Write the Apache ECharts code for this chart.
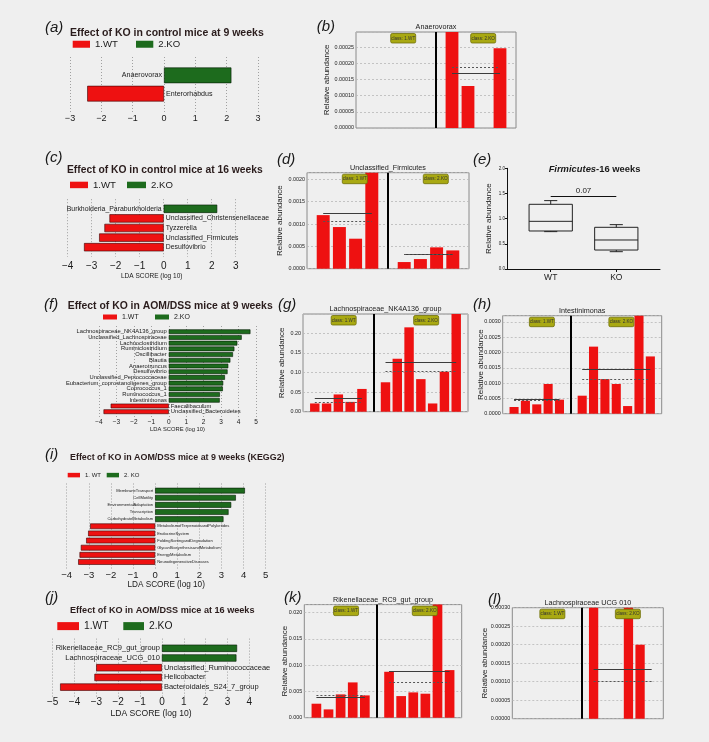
<!DOCTYPE html>
<html><head><meta charset="utf-8">
<script src="https://cdn.jsdelivr.net/npm/echarts@6/dist/echarts.min.js"></script>
<style>html,body{margin:0;padding:0;background:#efefef}#c{width:709px;height:742px}</style>
</head><body><div id="c"></div>
<script>
// ---------------- DATA ----------------
// (a) LDA, control 9 weeks (negative = 1.WT, positive = 2.KO)
const aNames = ['Anaerovorax', 'Enterorhabdus'];
const aLDA = [2.15, -2.45];
const aRange = [-3, 3];
// (c) LDA, control 16 weeks
const cNames = ['Burkholderia_Paraburkholderia', 'Unclassified_Christensenellaceae', 'Tyzzerella', 'Unclassified_Firmicutes', 'Desulfovibrio'];
const cLDA = [2.23, -2.26, -2.47, -2.69, -3.32];
const cRange = [-4, 3];
// (f) LDA, AOM/DSS 9 weeks
const fNames = ['Lachnospiraceae_NK4A136_group', 'Unclassified_Lachnospiraceae', 'Lachnoclostridium', 'Ruminiclostridium', 'Oscillibacter', 'Blautia', 'Anaerotruncus', 'Desulfovibrio', 'Unclassified_Peptococcaceae', 'Eubacterium_coprostanoligenes_group', 'Coprococcus_1', 'Ruminococcus_1', 'Intestinimonas', 'Faecalibaculum', 'Unclassified_Bacteroidetes'];
const fLDA = [4.68, 4.18, 3.93, 3.76, 3.68, 3.53, 3.41, 3.37, 3.22, 3.12, 3.10, 2.93, 2.92, -3.33, -3.74];
const fRange = [-4, 5];
// (i) LDA, AOM/DSS 9 weeks KEGG2
const iNames = ['MembraneTransport', 'CellMotility', 'EnvironmentalAdaptation', 'Transcription', 'CarbohydrateMetabolism', 'MetabolismofTerpenoidsandPolyketides', 'EndocrineSystem', 'FoldingSortingandDegradation', 'GlycanBiosynthesisandMetabolism', 'EnergyMetabolism', 'NeurodegenerativeDiseases'];
const iLDA = [4.06, 3.65, 3.44, 3.32, 3.09, -2.94, -3.03, -3.12, -3.36, -3.42, -3.48];
const iRange = [-4, 5];
// (j) LDA, AOM/DSS 16 weeks
const jNames = ['Rikenellaceae_RC9_gut_group', 'Lachnospiraceae_UCG_010', 'Unclassified_Ruminococcaceae', 'Helicobacter', 'Bacteroidales_S24_7_group'];
const jLDA = [3.44, 3.41, -3.01, -3.09, -4.66];
const jRange = [-5, 4];

// relative abundance per sample
const bTitle = 'Anaerovorax';
const bWT = [0, 0, 0, 0];
const bKO = [0.000303, 0.00013, 0, 0.000247];
const dTitle = 'Unclassified_Firmicutes';
const dWT = [0.0012, 0.000933, 0.000672, 0.00218];
const dKO = [0.000149, 0.000216, 0.000478, 0.00041];
const gTitle = 'Lachnospiraceae_NK4A136_group';
const gWT = [0.021, 0.021, 0.044, 0.025, 0.058];
const gKO = [0.075, 0.135, 0.215, 0.083, 0.021, 0.102, 0.251];
const hTitle = 'Intestinimonas';
const hWT = [0.000218, 0.000425, 0.000305, 0.00097, 0.000458];
const hKO = [0.000588, 0.00219, 0.00113, 0.00097, 0.00025, 0.00322, 0.00187];
const kTitle = 'Rikenellaceae_RC9_gut_group';
const kWT = [0.00266, 0.00158, 0.00443, 0.00671, 0.00424];
const kKO = [0.00873, 0.00411, 0.00481, 0.00456, 0.0218, 0.00905];
const lTitle = 'Lachnospiraceae UCG 010';
const lWT = [0, 0, 0, 0, 0];
const lKO = [0.000306, 0, 0, 0.000302, 0.0002, 0];

// (e) box plot: [min, q1, median, q3, max]
const eCats = ['WT', 'KO'];
const eWT = [0.742, 0.755, 0.947, 1.285, 1.358];
const eKO = [0.344, 0.377, 0.576, 0.828, 0.881];
const ePval = '0.07';
const eSigY = 1.437;

// ---------------- BUILD ----------------
const FN = "'Liberation Sans Narrow','Arial Narrow','Liberation Sans',sans-serif";
const FR = "'Liberation Sans',Arial,Helvetica,sans-serif";
const RED = '#ee1111', GREEN = '#1d6b1d', INK = '#1a1a1a';
const grid = [], xAxis = [], yAxis = [], series = [], legend = [], graphic = [];

function txt(text, x, y, o) {
  graphic.push({type: 'text', x: x, y: y, z: 100, silent: true,
    style: Object.assign({text: text, fill: INK, fontFamily: FR, fontSize: 10, align: 'left', verticalAlign: 'middle'}, o || {})});
}
function fmtMinus(v) { return v < 0 ? '\u2212' + Math.abs(v) : String(v); }
function mean(a) { return a.reduce((s, v) => s + v, 0) / a.length; }
function median(a) { const s = [...a].sort((x, y) => x - y); const n = s.length; return n % 2 ? s[(n - 1) / 2] : (s[n / 2 - 1] + s[n / 2]) / 2; }

function lda(p) {
  const gi = grid.length;
  grid.push({left: p.left, top: p.top, width: p.width, height: p.height, outerBoundsMode: 'none', containLabel: false, show: false});
  const cats = [' '].concat(p.names, ['  ']);
  xAxis.push({gridIndex: gi, type: 'value', min: p.range[0], max: p.range[1], interval: 1,
    axisLine: {show: false}, axisTick: {show: false},
    splitLine: {show: true, lineStyle: {color: '#8c8c8c', width: 0.8, type: [1, 2]}},
    axisLabel: {show: true, fontSize: p.tickFs, fontFamily: FN, color: INK, margin: p.tickMargin, formatter: fmtMinus, hideOverlap: false},
    name: p.xName || '', nameLocation: 'middle', nameGap: p.nameGap || 0, nameMoveOverlap: false,
    nameTextStyle: {fontSize: p.nameFs || 8, fontFamily: FN, color: INK}});
  yAxis.push({gridIndex: gi, type: 'category', data: cats, boundaryGap: false, inverse: true,
    axisLine: {show: false}, axisTick: {show: false}, axisLabel: {show: false}, splitLine: {show: false}});
  const n = p.vals.length;
  const wt = cats.map((c, i) => (i > 0 && i <= n && p.vals[i - 1] < 0) ? p.vals[i - 1] : '-');
  const ko = cats.map((c, i) => (i > 0 && i <= n && p.vals[i - 1] > 0) ? p.vals[i - 1] : '-');
  const common = {type: 'bar', xAxisIndex: gi, yAxisIndex: gi, barWidth: p.barH, barGap: '-100%', silent: true, animation: false};
  series.push(Object.assign({name: p.legNames[0], data: wt, itemStyle: {color: RED, borderColor: '#3a0000', borderWidth: 0.6},
    label: {show: true, position: 'right', distance: 2, formatter: '{b}', fontSize: p.lblFs, fontFamily: FN, color: INK}}, common));
  series.push(Object.assign({name: p.legNames[1], data: ko, itemStyle: {color: GREEN, borderColor: '#021a02', borderWidth: 0.6},
    label: {show: true, position: 'left', distance: 2, formatter: '{b}', fontSize: p.lblFs, fontFamily: FN, color: INK}}, common));
  p.leg.forEach((L, k) => {
    legend.push({data: [p.legNames[k]], left: L[0], top: p.legY - Math.max(p.legH, p.legFs * 1.2) / 2, padding: 0,
      itemWidth: L[1], itemHeight: p.legH, icon: 'rect', selectedMode: false, itemGap: 0,
      itemStyle: {borderWidth: 0},
      textStyle: {fontSize: p.legFs, fontFamily: FN, color: INK}});
  });
  txt(p.title, p.titleX, p.titleY, {fontWeight: 'bold', fontSize: p.titleFs, fill: '#2a1c1c'});
  txt(p.letter, p.letX, p.letY, {fontStyle: 'italic', fontSize: 15});
}

function rel(p) {
  const gi = grid.length;
  grid.push({left: p.left, top: p.top, width: p.width, height: p.height, outerBoundsMode: 'none', containLabel: false,
    show: true, borderColor: '#8a8a8a', borderWidth: 1, backgroundColor: 'transparent'});
  const wCats = p.wt.map((_, i) => 'W' + (i + 1));
  const kCats = p.ko.map((_, i) => 'K' + (i + 1));
  const cats = ['L'].concat(wCats, ['G'], kCats, ['R']);
  const data = ['-'].concat(p.wt, ['-'], p.ko, ['-']);
  xAxis.push({gridIndex: gi, type: 'category', data: cats, boundaryGap: false,
    axisLine: {show: false}, axisTick: {show: false}, axisLabel: {show: false}, splitLine: {show: false}});
  yAxis.push({gridIndex: gi, type: 'value', min: 0, max: p.ymax, interval: p.step,
    axisLine: {show: false}, axisTick: {show: false},
    splitLine: {show: true, lineStyle: {color: '#b8b8b8', width: 0.8, type: [2, 2]}},
    axisLabel: {fontSize: 5.4, fontFamily: FN, color: '#222', margin: 2, hideOverlap: false,
      formatter: v => { const r = v / p.step; return Math.abs(r - Math.round(r)) < 1e-6 ? v.toFixed(p.dec) : ''; }},
    name: 'Relative abundance', nameLocation: 'middle', nameGap: p.nameGap, nameMoveOverlap: false,
    nameTextStyle: {fontSize: 8, fontFamily: FR, color: INK}});
  const ml = [];
  const grp = (vals, c) => {
    const a = mean(vals), m = median(vals);
    const sSolid = {color: '#3c3c3c', width: 1, type: 'solid'};
    const sDash = {color: '#555', width: 1, type: [2, 2]};
    if (a > 0) ml.push([{coord: [c[0], a], lineStyle: sSolid}, {coord: [c[c.length - 1], a], lineStyle: sSolid}]);
    if (m > 0) ml.push([{coord: [c[0], m], lineStyle: sDash}, {coord: [c[c.length - 1], m], lineStyle: sDash}]);
  };
  grp(p.wt, wCats); grp(p.ko, kCats);
  ml.push({xAxis: 'G', lineStyle: {color: '#000', width: 2, type: 'solid'}});
  series.push({type: 'bar', xAxisIndex: gi, yAxisIndex: gi, data: data, barWidth: '80%', itemStyle: {color: RED},
    silent: true, animation: false, clip: true,
    markLine: {silent: true, symbol: ['none', 'none'], label: {show: false}, animation: false, data: ml}});
  txt(p.title, p.left + p.width / 2, p.top - 4.7, {fontSize: 7.2, fontFamily: FN, align: 'center'});
  const nS = cats.length - 1, slot = p.width / nS;
  const wMid = (1 + p.wt.length) / 2;
  const kMid = ((p.wt.length + 2) + (p.wt.length + 1 + p.ko.length)) / 2;
  [[wMid, 'class: 1.WT'], [kMid, 'class: 2.KO']].forEach(([m, t]) => {
    const cx = p.left + (m + 0.45) * slot;
    graphic.push({type: 'rect', z: 100, silent: true, shape: {x: cx - 12.5, y: p.top + 1.5, width: 25, height: 9.5, r: 1.5},
      style: {fill: '#a9a912', stroke: '#6f6f08', lineWidth: 0.8}});
    graphic.push({type: 'text', z: 101, silent: true, x: cx, y: p.top + 6.3,
      style: {text: t, fontSize: 4.6, fontFamily: FN, fill: '#333', align: 'center', verticalAlign: 'middle'}});
  });
  txt(p.letter, p.letX, p.letY, {fontStyle: 'italic', fontSize: 15});
}

// LDA panels
lda({names: aNames, vals: aLDA, range: aRange, left: 70, width: 188, top: 57, height: 55, barH: 15.7, lblFs: 7.1,
  tickFs: 9, tickMargin: 2, legNames: ['1.WT', '2.KO'], legY: 45, legH: 7, legFs: 9.6, leg: [[72.7, 17.3], [136, 17.3]],
  title: 'Effect of KO in control mice at 9 weeks', titleX: 70, titleY: 33.3, titleFs: 10.5, letter: '(a)', letX: 45, letY: 28});
lda({names: cNames, vals: cLDA, range: cRange, left: 67.7, width: 168, top: 199.2, height: 57.6, barH: 8.3, lblFs: 6.9,
  tickFs: 10, tickMargin: 4.5, xName: 'LDA SCORE (log 10)', nameGap: 15.5, nameFs: 6.5,
  legNames: ['1.WT', '2.KO'], legY: 185.7, legH: 6.5, legFs: 9.6, leg: [[70, 18], [127, 19]],
  title: 'Effect of KO in control mice at 16 weeks', titleX: 67, titleY: 170, titleFs: 10.3, letter: '(c)', letX: 45, letY: 158});
lda({names: fNames, vals: fLDA, range: fRange, left: 99, width: 157, top: 326, height: 91.4, barH: 4.7, lblFs: 5.8,
  tickFs: 6.5, tickMargin: 1.5, xName: 'LDA SCORE (log 10)', nameGap: 8.5, nameFs: 5.8,
  legNames: ['1.WT', '2.KO'], legY: 317.7, legH: 5, legFs: 7, leg: [[103, 14], [155, 14]],
  title: 'Effect of KO in AOM/DSS mice at 9 weeks', titleX: 67.7, titleY: 306, titleFs: 10.4, letter: '(f)', letX: 44, letY: 305});
lda({names: iNames, vals: iLDA, range: iRange, left: 66.7, width: 199, top: 483.5, height: 85.6, barH: 5.7, lblFs: 4.1,
  tickFs: 9.5, tickMargin: 1, xName: 'LDA SCORE (log 10)', nameGap: 11.5, nameFs: 8.2,
  legNames: ['1. WT', '2. KO'], legY: 475.7, legH: 4.5, legFs: 6, leg: [[67.7, 12.3], [106.7, 12.3]],
  title: 'Effect of KO in AOM/DSS mice at 9 weeks (KEGG2)', titleX: 70, titleY: 457.7, titleFs: 8.9, letter: '(i)', letX: 45, letY: 455});
lda({names: jNames, vals: jLDA, range: jRange, left: 52.7, width: 196.6, top: 638.6, height: 58.2, barH: 7.3, lblFs: 7.5,
  tickFs: 10, tickMargin: 0.5, xName: 'LDA SCORE (log 10)', nameGap: 12.7, nameFs: 8.6,
  legNames: ['1.WT', '2.KO'], legY: 627.3, legH: 8, legFs: 10.3, leg: [[57.3, 21.7], [123.3, 20.7]],
  title: 'Effect of KO in AOM/DSS mice at 16 weeks', titleX: 70, titleY: 610, titleFs: 9.1, letter: '(j)', letX: 45, letY: 598});

// Relative abundance panels
rel({title: bTitle, wt: bWT, ko: bKO, left: 356, top: 32, width: 160, height: 96, ymax: 0.000297, step: 0.00005, dec: 5, nameGap: 25, letter: '(b)', letX: 316.7, letY: 26.7});
rel({title: dTitle, wt: dWT, ko: dKO, left: 307, top: 172.7, width: 162, height: 96, ymax: 0.00215, step: 0.0005, dec: 4, nameGap: 23, letter: '(d)', letX: 277, letY: 160});
rel({title: gTitle, wt: gWT, ko: gKO, left: 303, top: 314, width: 165, height: 97.7, ymax: 0.249, step: 0.05, dec: 2, nameGap: 17, letter: '(g)', letX: 278, letY: 305});
rel({title: hTitle, wt: hWT, ko: hKO, left: 502.7, top: 315.7, width: 159, height: 98, ymax: 0.0032, step: 0.0005, dec: 4, nameGap: 18, letter: '(h)', letX: 473, letY: 305});
rel({title: kTitle, wt: kWT, ko: kKO, left: 304.3, top: 604.6, width: 157.4, height: 113.1, ymax: 0.0215, step: 0.005, dec: 3, nameGap: 16, letter: '(k)', letX: 284, letY: 598});
rel({title: lTitle, wt: lWT, ko: lKO, left: 512.3, top: 607.7, width: 151, height: 111, ymax: 0.0003, step: 0.00005, dec: 5, nameGap: 24, letter: '(l)', letX: 488, letY: 600});

// (e) box plot
(function () {
  const gi = grid.length;
  grid.push({left: 507, top: 168.3, width: 153, height: 100.7, outerBoundsMode: 'none', containLabel: false, show: false});
  xAxis.push({gridIndex: gi, type: 'value', min: -2 / 3, max: 5 / 3,
    axisLine: {show: true, onZero: false, lineStyle: {color: '#111', width: 1}},
    axisTick: {show: true, customValues: [0, 1], length: 3, lineStyle: {color: '#111'}},
    axisLabel: {show: true, customValues: [0, 1], formatter: v => eCats[Math.round(v)] || '', fontSize: 8.5, fontFamily: FR, color: INK, margin: 4},
    splitLine: {show: false}});
  yAxis.push({gridIndex: gi, type: 'value', min: 0, max: 2, interval: 0.5,
    axisLine: {show: true, onZero: false, lineStyle: {color: '#111', width: 1}},
    axisTick: {show: true, length: 2, lineStyle: {color: '#111'}},
    axisLabel: {fontSize: 4.5, fontFamily: FN, color: INK, margin: 2, formatter: v => v.toFixed(1)},
    splitLine: {show: false},
    name: 'Relative abundance', nameLocation: 'middle', nameGap: 14, nameMoveOverlap: false,
    nameTextStyle: {fontSize: 8, fontFamily: FR, color: INK}});
  series.push({type: 'custom', xAxisIndex: gi, yAxisIndex: gi, silent: true, animation: false,
    encode: {x: 0, y: [1, 2, 3, 4, 5]},
    data: [[0].concat(eWT), [1].concat(eKO)],
    renderItem: function (params, api) {
      const x = api.value(0);
      const mn = api.value(1), q1 = api.value(2), md = api.value(3), q3 = api.value(4), mx = api.value(5);
      const c = api.coord([x, md]);
      const unit = api.size([1, 0])[0];
      const hw = unit * 0.33, cw = unit * 0.1;
      const y1 = api.coord([x, q1])[1], y3 = api.coord([x, q3])[1];
      const ymn = api.coord([x, mn])[1], ymx = api.coord([x, mx])[1];
      const cx = c[0], ym = c[1];
      const ls = {stroke: '#222', lineWidth: 1, fill: null};
      return {type: 'group', children: [
        {type: 'rect', shape: {x: cx - hw, y: y3, width: 2 * hw, height: y1 - y3}, style: {stroke: '#222', lineWidth: 1, fill: 'rgba(0,0,0,0)'}},
        {type: 'line', shape: {x1: cx - hw, y1: ym, x2: cx + hw, y2: ym}, style: ls},
        {type: 'line', shape: {x1: cx, y1: y3, x2: cx, y2: ymx}, style: ls},
        {type: 'line', shape: {x1: cx - cw, y1: ymx, x2: cx + cw, y2: ymx}, style: ls},
        {type: 'line', shape: {x1: cx, y1: y1, x2: cx, y2: ymn}, style: ls},
        {type: 'line', shape: {x1: cx - cw, y1: ymn, x2: cx + cw, y2: ymn}, style: ls}
      ]};
    },
    markLine: {silent: true, symbol: ['none', 'none'], animation: false,
      lineStyle: {color: '#111', width: 1, type: 'solid'},
      label: {show: true, formatter: ePval, position: 'insideMiddleTop', fontSize: 8, fontFamily: FR, color: INK, distance: 2},
      data: [[{coord: [0, eSigY]}, {coord: [1, eSigY]}]]}
  });
  txt('{i|Firmicutes}-16 weeks', 594.5, 169.3, {align: 'center', fontWeight: 'bold', fontSize: 9.4,
    rich: {i: {fontStyle: 'italic', fontWeight: 'bold', fontSize: 9.4, fontFamily: FR, fill: INK}}});
  txt('(e)', 473, 160, {fontStyle: 'italic', fontSize: 15});
})();

const chart = echarts.init(document.getElementById('c'), null, {renderer: 'canvas', width: 709, height: 742});
chart.setOption({
  backgroundColor: '#efefef',
  animation: false,
  grid: grid, xAxis: xAxis, yAxis: yAxis, series: series, legend: legend, graphic: graphic,
  tooltip: {show: false}
});
</script></body></html>
